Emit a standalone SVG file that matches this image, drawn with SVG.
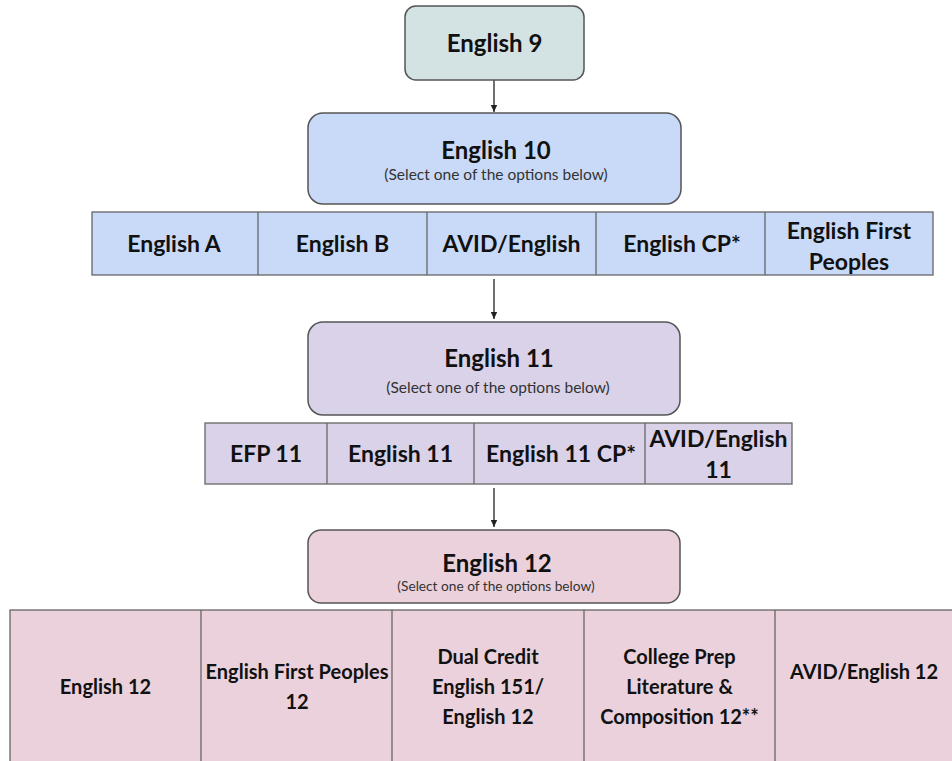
<svg xmlns="http://www.w3.org/2000/svg" width="952" height="761" viewBox="0 0 952 761">
<style>
  .box { stroke: #555; stroke-width: 1.5; }
  .cell { stroke: #666; stroke-width: 1.3; }
  .g9 { fill: #d3e2e3; }
  .g10 { fill: #c9daf8; }
  .g11 { fill: #d9d2e9; }
  .g12 { fill: #ead1dc; }
  text { font-family: Lato, "Liberation Sans", sans-serif; fill: #111; text-anchor: middle; }
  .h { font-size: 24px; font-weight: bold; }
  .c { font-size: 23px; font-weight: bold; }
  .c12 { font-size: 20px; font-weight: bold; }
  .sub { font-size: 15.5px; fill: #333; }
  .sub12 { font-size: 13.7px; fill: #333; }
  .conn { stroke: #333; stroke-width: 1.4; fill: none; }
</style>
<defs>
  <marker id="arrow" markerWidth="8" markerHeight="8" refX="7" refY="4" orient="auto" markerUnits="userSpaceOnUse">
    <path d="M0,0.8 L7,4 L0,7.2 Z" fill="#222"/>
  </marker>
</defs>
<rect width="952" height="761" fill="#ffffff"/>

<g id="connectors">
  <line class="conn" x1="494" y1="80" x2="494" y2="112" marker-end="url(#arrow)"/>
  <line class="conn" x1="494" y1="279" x2="494" y2="319" marker-end="url(#arrow)"/>
  <line class="conn" x1="494" y1="488" x2="494" y2="527" marker-end="url(#arrow)"/>
</g>

<g id="english9">
  <rect class="box g9" x="405" y="6" width="179" height="74" rx="11"/>
  <text class="h" x="494.5" y="52">English 9</text>
</g>

<g id="english10">
  <rect class="box g10" x="308" y="113" width="373" height="91" rx="15"/>
  <text class="h" x="496" y="159">English 10</text>
  <text class="sub" x="496" y="180">(Select one of the options below)</text>
</g>

<g id="english10-options">
  <rect class="cell g10" x="92" y="212" width="841" height="63"/>
  <line class="cell" x1="258" y1="212" x2="258" y2="275"/>
  <line class="cell" x1="427" y1="212" x2="427" y2="275"/>
  <line class="cell" x1="596" y1="212" x2="596" y2="275"/>
  <line class="cell" x1="765" y1="212" x2="765" y2="275"/>
  <text class="c" x="174" y="252">English A</text>
  <text class="c" x="342.5" y="252">English B</text>
  <text class="c" x="511.5" y="252">AVID/English</text>
  <text class="c" x="682" y="252">English CP*</text>
  <text class="c" x="849" y="239">English First</text>
  <text class="c" x="849" y="270">Peoples</text>
</g>

<g id="english11">
  <rect class="box g11" x="308" y="322" width="372" height="93" rx="15"/>
  <text class="h" x="499" y="367">English 11</text>
  <text class="sub" x="498" y="393">(Select one of the options below)</text>
</g>

<g id="english11-options">
  <rect class="cell g11" x="205" y="423" width="587" height="61"/>
  <line class="cell" x1="327" y1="423" x2="327" y2="484"/>
  <line class="cell" x1="474" y1="423" x2="474" y2="484"/>
  <line class="cell" x1="645" y1="423" x2="645" y2="484"/>
  <text class="c" x="266" y="462">EFP 11</text>
  <text class="c" x="400.5" y="462">English 11</text>
  <text class="c" x="561" y="462">English 11 CP*</text>
  <text class="c" x="718.5" y="447">AVID/English</text>
  <text class="c" x="718.5" y="478">11</text>
</g>

<g id="english12">
  <rect class="box g12" x="308" y="530" width="372" height="73" rx="13"/>
  <text class="h" x="497" y="572">English 12</text>
  <text class="sub12" x="496" y="591">(Select one of the options below)</text>
</g>

<g id="english12-options">
  <rect class="cell g12" x="10" y="610" width="950" height="160"/>
  <line class="cell" x1="201" y1="610" x2="201" y2="761"/>
  <line class="cell" x1="392" y1="610" x2="392" y2="761"/>
  <line class="cell" x1="584" y1="610" x2="584" y2="761"/>
  <line class="cell" x1="775" y1="610" x2="775" y2="761"/>
  <text class="c12" x="105.5" y="694">English 12</text>
  <text class="c12" x="297" y="679">English First Peoples</text>
  <text class="c12" x="297" y="709">12</text>
  <text class="c12" x="488" y="664">Dual Credit</text>
  <text class="c12" x="488" y="694">English 151/</text>
  <text class="c12" x="488" y="724">English 12</text>
  <text class="c12" x="679.5" y="664">College Prep</text>
  <text class="c12" x="679.5" y="694">Literature &amp;</text>
  <text class="c12" x="679.5" y="724">Composition 12**</text>
  <text class="c12" x="864" y="679">AVID/English 12</text>
</g>
</svg>
